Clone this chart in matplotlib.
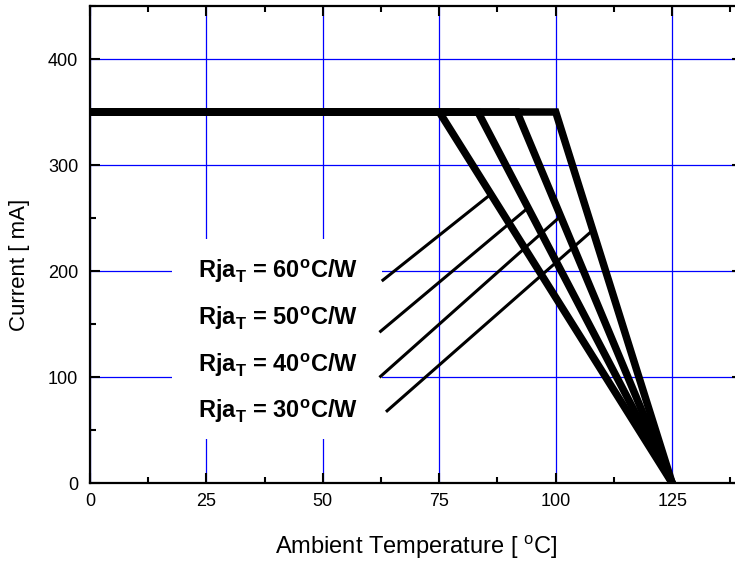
import matplotlib.pyplot as plt
from matplotlib.patches import Rectangle
from matplotlib.ticker import MultipleLocator

plt.rcParams['font.family'] = ['Liberation Sans', 'DejaVu Sans']
plt.rcParams['mathtext.fontset'] = 'custom'
plt.rcParams['mathtext.rm'] = 'Liberation Sans'
plt.rcParams['mathtext.bf'] = 'Liberation Sans:bold'

# derating curves: flat at i_max until the knee, then down to t_max
rja = [60, 50, 40, 30]
knee_temp = [75, 83.3, 91.7, 100]
i_max = 350
t_max = 125

# label leader lines (start near text, end on curve)
lead_x0 = [62.9, 62.4, 62.4, 63.8]
lead_y0 = [191.4, 143.1, 100.6, 68.1]
lead_x1 = [85.8, 93.9, 100.8, 107.7]
lead_y1 = [271.5, 259, 250.7, 237.5]
label_y = [193, 149.5, 105, 61.5]

fig = plt.figure(figsize=(7.35, 5.64), dpi=100)
ax = fig.add_axes([90/735, 81/564, 652/735, 477/564])

ax.set_xlim(0, 140)
ax.set_ylim(0, 450)
ax.xaxis.set_major_locator(MultipleLocator(25))
ax.xaxis.set_minor_locator(MultipleLocator(12.5))
ax.yaxis.set_major_locator(MultipleLocator(100))
ax.yaxis.set_minor_locator(MultipleLocator(50))
ax.set_axisbelow(True)
ax.grid(True, which='major', color='#0000ff', lw=0.9)

ax.tick_params(which='both', direction='in', top=True, right=True, width=1.5)
ax.tick_params(which='major', length=7.2, labelsize=13)
ax.tick_params(axis='x', which='major', pad=7)
ax.tick_params(axis='y', which='major', pad=8.5)
ax.tick_params(which='minor', length=4.5)
for s in ax.spines.values():
    s.set_linewidth(1.6)

# white area behind the labels
ax.add_patch(Rectangle((17.6, 41.6), 45.1, 188.4, facecolor='white',
                       edgecolor='none', zorder=1))

for k in knee_temp:
    ax.plot([0, k, t_max], [i_max, i_max, 0], color='black', lw=5.4,
            solid_joinstyle='miter', zorder=3)

for i in range(len(rja)):
    ax.plot([lead_x0[i], lead_x1[i]], [lead_y0[i], lead_y1[i]],
            color='black', lw=2.2, zorder=2)
    ax.text(57.5, label_y[i],
            'Rja$_{\\mathbf{T}}$ = %d$^{\\mathbf{o}}$C/W' % rja[i],
            fontsize=17, fontweight='bold', ha='right', va='baseline',
            zorder=4)

ax.set_xlabel('Ambient Temperature [ $^{\\mathrm{o}}$C]', fontsize=17)
ax.set_ylabel('Current [ mA]', fontsize=16)
ax.xaxis.set_label_coords(0.5, -0.105)
ax.yaxis.set_label_coords(-0.092, 0.457)

fig.savefig('out.png', dpi=100)
